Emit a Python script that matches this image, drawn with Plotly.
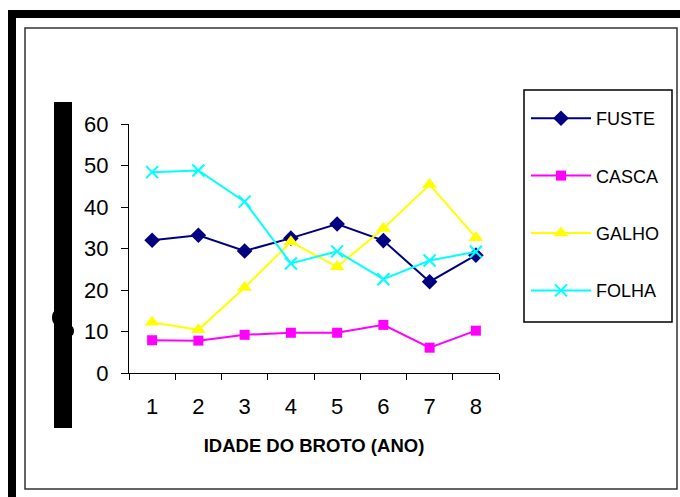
import plotly.graph_objects as go

ages = ["1", "2", "3", "4", "5", "6", "7", "8"]
fuste = [32.0, 33.2, 29.4, 32.5, 35.9, 31.9, 22.0, 28.4]
casca = [7.9, 7.8, 9.2, 9.7, 9.7, 11.6, 6.1, 10.2]
galho = [12.2, 10.4, 20.6, 31.6, 25.6, 34.8, 45.4, 32.6]
folha = [48.4, 48.8, 41.3, 26.4, 29.3, 22.6, 27.1, 29.2]

series = [
    ("FUSTE", fuste, "#000080", "diamond", 12),
    ("CASCA", casca, "#FF00FF", "square", 10),
    ("GALHO", galho, "#FFFF00", "triangle-up", 13),
    ("FOLHA", folha, "#00FFFF", "x-thin-open", 12),
]

FONT = "Liberation Sans, Arial, sans-serif"
W, H = 680, 497
L, R, T, B = 129, 499, 124, 373  # plot area in pixels


def px(x):
    return (x - L) / (R - L)


def py(y):
    return (B - y) / (B - T)


fig = go.Figure()
for i, (name, vals, color, sym, size) in enumerate(series):
    mk = dict(symbol=sym, size=size, color=color)
    if sym.startswith("x-thin"):
        mk["line"] = dict(color=color, width=2)
    fig.add_trace(go.Scatter(
        x=ages, y=vals, name=name, mode="lines+markers",
        line=dict(color=color, width=2), marker=mk,
        legendgroup=name,
    ))

shapes = [
    # heavy frame top and left
    dict(type="rect", xref="paper", yref="paper", x0=px(8), x1=px(682), y0=py(18), y1=py(10),
         fillcolor="black", line=dict(width=0), layer="above"),
    dict(type="rect", xref="paper", yref="paper", x0=px(8), x1=px(16), y0=py(500), y1=py(10),
         fillcolor="black", line=dict(width=0), layer="above"),
    # inner thin frame
    dict(type="rect", xref="paper", yref="paper", x0=px(25), x1=px(677), y0=py(489), y1=py(28),
         line=dict(color="#333333", width=1.5), layer="below"),
    # legend frame
    dict(type="rect", xref="paper", yref="paper", x0=px(524), x1=px(672), y0=py(322), y1=py(90),
         line=dict(color="black", width=1.5), layer="below"),
    # black vertical bar left of y axis
    dict(type="rect", xref="paper", yref="paper", x0=px(54), x1=px(72), y0=py(428), y1=py(102),
         fillcolor="black", line=dict(width=0), layer="above"),
    dict(type="circle", xref="paper", yref="paper", x0=px(52), x1=px(58), y0=py(324), y1=py(311),
         fillcolor="black", line=dict(width=0), layer="above"),
    dict(type="circle", xref="paper", yref="paper", x0=px(68), x1=px(74), y0=py(336), y1=py(326),
         fillcolor="black", line=dict(width=0), layer="above"),
]

fig.update_layout(
    width=W, height=H,
    margin=dict(l=L, r=W - R, t=T, b=H - B, pad=0),
    paper_bgcolor="white", plot_bgcolor="white",
    font=dict(family=FONT, color="black"),
    shapes=shapes,
    showlegend=True,
    legend=dict(
        x=px(526), y=py(100), xanchor="left", yanchor="top",
        borderwidth=0, bgcolor="rgba(0,0,0,0)",
        font=dict(family=FONT, size=18, color="black"),
        traceorder="grouped", tracegroupgap=31,
        itemwidth=60,
    ),
    xaxis=dict(
        type="category", range=[-0.5, 7.5], tickson="boundaries",
        ticks="outside", ticklen=6, tickcolor="black", tickwidth=1,
        showline=True, linecolor="black", linewidth=1, showgrid=False,
        tickfont=dict(family=FONT, size=22, color="black"),
        ticklabelstandoff=14,
        title=dict(text="IDADE DO BROTO (ANO)", standoff=20,
                   font=dict(family=FONT, size=18.5, color="black", weight="bold")),
        zeroline=False,
    ),
    yaxis=dict(
        range=[0, 60], tickvals=[0, 10, 20, 30, 40, 50, 60],
        ticks="outside", ticklen=7, tickcolor="black", tickwidth=1,
        showline=True, linecolor="black", linewidth=1, showgrid=False,
        tickfont=dict(family=FONT, size=22, color="black"),
        ticklabelstandoff=8, zeroline=False,
    ),
)

fig.write_html("out.html", config={"displayModeBar": False},
               post_script="document.body.style.margin='0';")
